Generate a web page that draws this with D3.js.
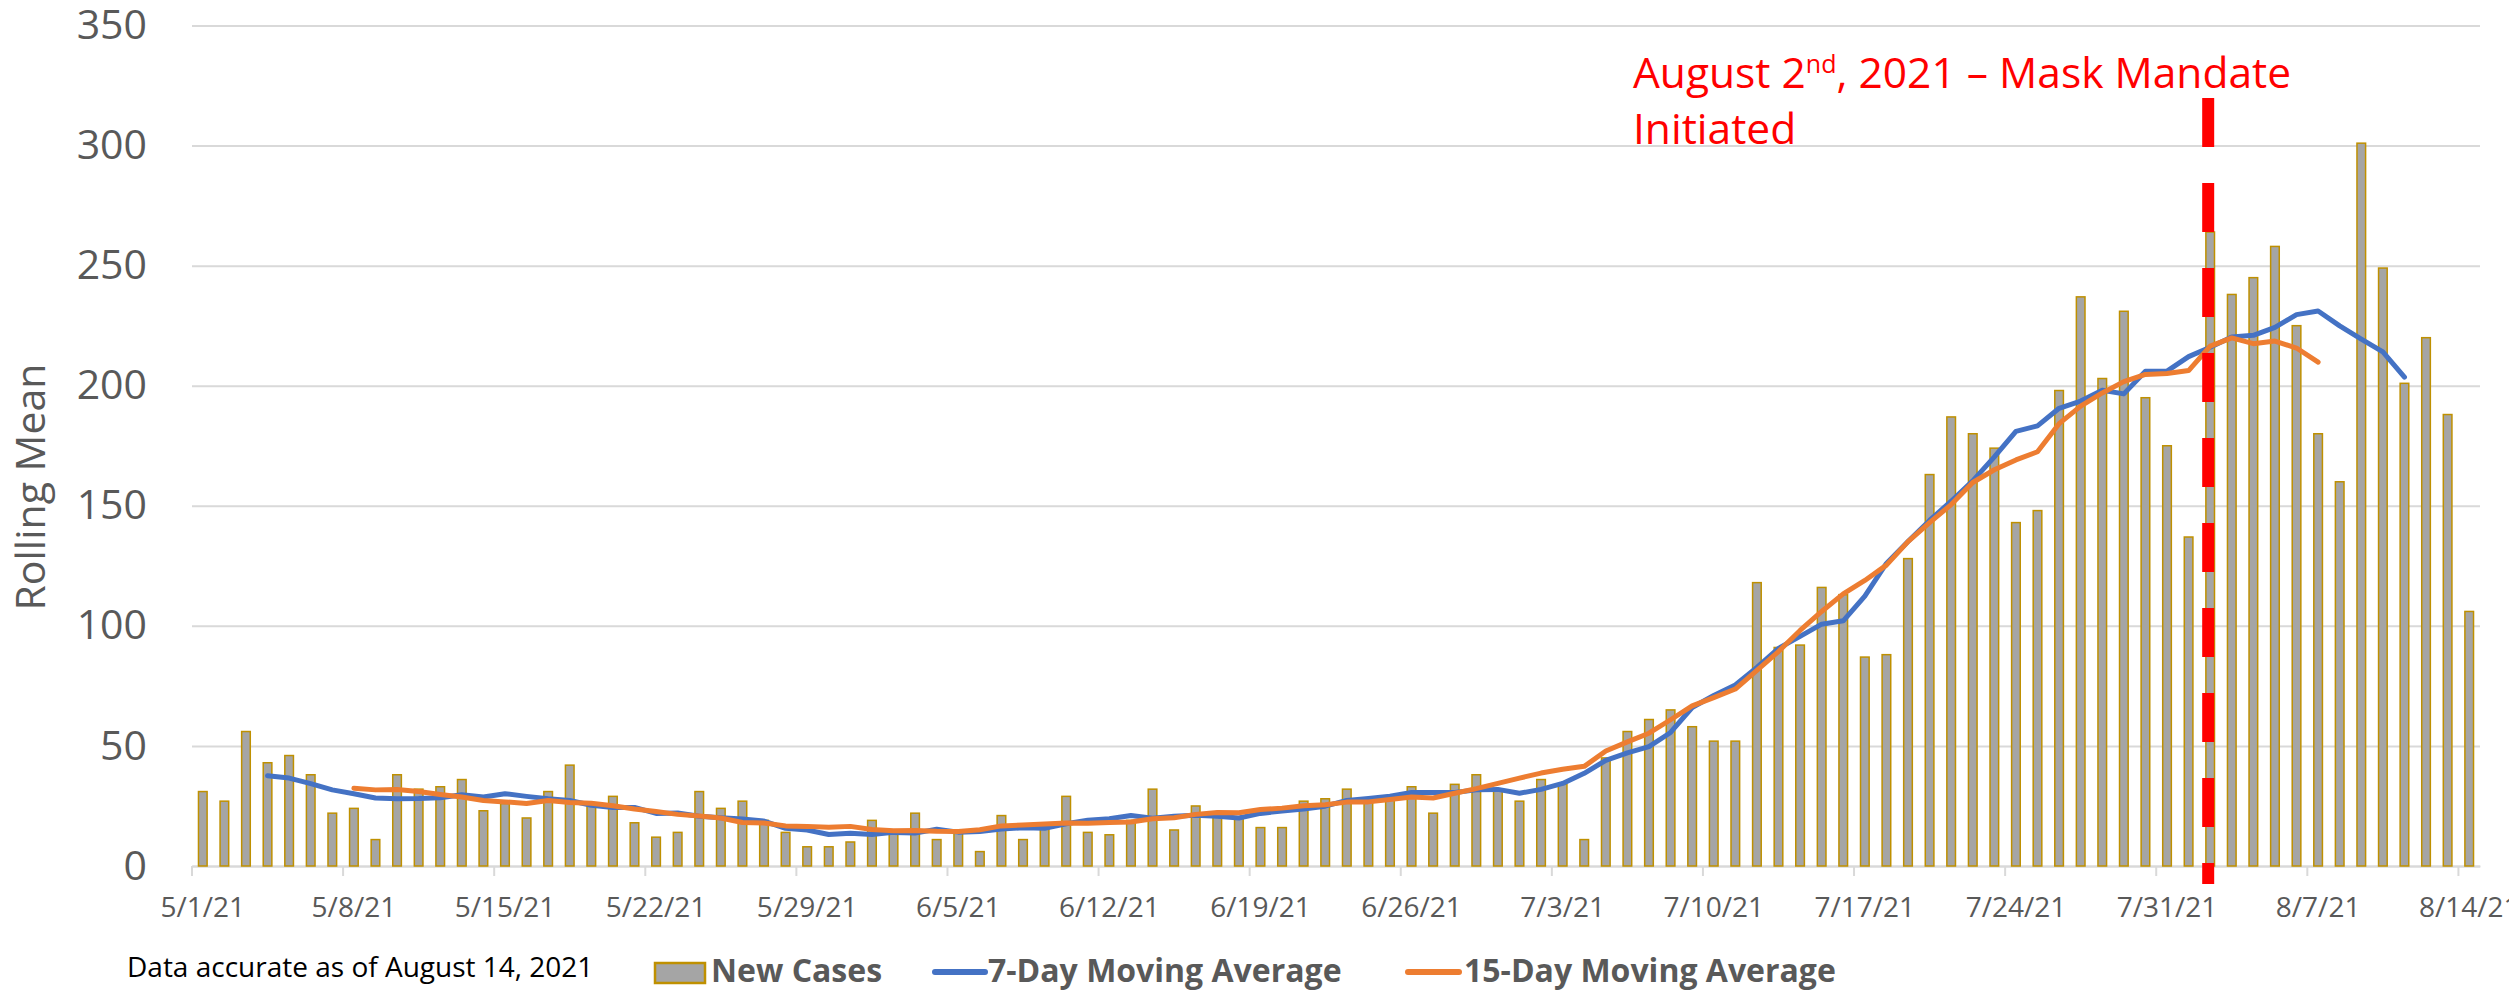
<!DOCTYPE html>
<html>
<meta charset="utf-8">
<script src="https://d3js.org/d3.v7.min.js"></script>
<style>
    body { margin: 0; background: #fff; }
    text { font-family: "Open Sans", sans-serif; }
</style>
<body>
    <svg width="2509" height="991"></svg>
    <script>
        // daily new cases, 5/1/21 .. 8/14/21
        const newCases = [
            31, 27, 56, 43, 46, 38, 22, 24, 11, 38, 32, 33, 36, 23, 26, 20, 31, 42, 25, 29, 18, 12, 14, 31, 24, 27, 19, 14, 8, 8, 10,
            19, 14, 22, 11, 14, 6, 21, 11, 16, 29, 14, 13, 19, 32, 15, 25, 21, 20, 16, 16, 27, 28, 32, 27, 28, 33, 22, 34, 38, 32,
            27, 36, 34, 11, 45, 56, 61, 65, 58, 52, 52, 118, 91, 92, 116, 113, 87, 88, 128, 163, 187, 180, 174, 143, 148, 198, 237, 203, 231, 195, 175,
            137, 264, 238, 245, 258, 225, 180, 160, 301, 249, 201, 220, 188, 106
        ];

        // centred 7-day moving average as plotted (null where not drawn)
        const ma7 = [
            null, null, null,
            37.6, 36.6, 34.3, 31.7, 30.1, 28.3, 28.0, 28.1, 28.4, 29.7,
            28.7, 30.1, 29.0, 28.0, 27.3, 25.3, 24.4, 24.4, 21.9, 22.1,
            20.7, 20.1, 19.6, 18.7, 15.7, 15.0, 13.1, 13.6, 13.1, 14.0,
            13.7, 15.3, 14.1, 14.4, 15.4, 15.9, 15.7, 17.6, 19.1, 19.7,
            21.0, 19.9, 20.7, 21.1, 20.7, 20.0, 21.9, 22.9, 23.7, 24.9,
            27.3, 28.1, 29.1, 30.6, 30.6, 30.6, 31.7, 31.9, 30.3, 31.9,
            34.4, 38.6, 44.0, 47.1, 49.7, 55.6, 66.0, 71.0, 75.4, 82.7,
            90.6, 95.6, 100.7, 102.1, 112.4, 126.0, 135.1, 143.9, 151.9, 160.4,
            170.4, 181.0, 183.3, 190.6, 193.6, 198.1, 196.6, 206.0, 206.1, 212.1,
            216.0, 220.3, 221.0, 224.3, 229.6, 231.1, 224.9, 219.4, 214.1, 203.6,
            null, null, null
        ];

        // centred 15-day moving average as plotted
        const ma15 = [
            null, null, null, null, null, null, null,
            32.4, 31.7, 31.9, 31.0, 29.8, 28.7, 27.3, 26.7, 26.0, 27.3,
            26.4, 26.1, 25.1, 23.7, 22.7, 21.5, 20.8, 20.0, 18.1, 17.9,
            16.7, 16.5, 16.1, 16.5, 15.2, 14.7, 14.8, 14.5, 14.4, 15.1,
            16.7, 17.1, 17.5, 17.9, 17.8, 18.1, 18.3, 19.7, 20.1, 21.5,
            22.3, 22.2, 23.5, 24.1, 25.1, 25.5, 26.6, 26.7, 27.7, 28.7,
            28.3, 30.3, 32.2, 34.4, 36.6, 38.7, 40.3, 41.5, 47.9, 51.7,
            55.3, 60.9, 66.7, 70.1, 73.7, 81.5, 89.3, 98.1, 106.0, 113.3,
            118.9, 125.3, 135.1, 143.0, 150.5, 159.7, 165.0, 169.1, 172.5, 184.2,
            191.5, 197.0, 201.7, 204.7, 205.1, 206.3, 216.5, 219.9, 217.5, 218.6,
            215.7, 209.8,
            null, null, null, null, null, null, null
        ];

        const days = d3.timeDays(new Date(2021, 4, 1), new Date(2021, 7, 15));
        const tickLabels = ["5/1/21", "5/8/21", "5/15/21", "5/22/21", "5/29/21", "6/5/21", "6/12/21", "6/19/21",
            "6/26/21", "7/3/21", "7/10/21", "7/17/21", "7/24/21", "7/31/21", "8/7/21", "8/14/21"];
        const yTicks = [0, 50, 100, 150, 200, 250, 300, 350];
        const mandateDay = new Date(2021, 7, 2);

        let svg = d3.select("svg"),
            plot = { left: 192, right: 2480, top: 25.5, bottom: 866 };

        let x = d3.scaleBand().domain(days).range([plot.left, plot.right]).paddingInner(0.6).paddingOuter(0.3),
            y = d3.scaleLinear().domain([0, 350]).range([plot.bottom, plot.top]);
        const cx = d => x(d) + x.bandwidth() / 2;

        // y axis + gridlines
        let yAxis = svg.append("g").attr("transform", `translate(${plot.left},0)`)
            .call(d3.axisLeft(y).tickValues(yTicks).tickSize(-(plot.right - plot.left)).tickPadding(45));
        yAxis.select(".domain").remove();
        yAxis.selectAll("line").attr("stroke", "#d9d9d9").attr("stroke-width", 2);
        yAxis.selectAll("text").attr("fill", "#595959").style("font-size", "41px");

        // x axis: labels under the day, tick marks on week boundaries
        const labelDays = days.filter((d, i) => i % 7 === 0);
        let xAxis = svg.append("g").attr("transform", `translate(0,${plot.bottom})`)
            .call(d3.axisBottom(x).tickValues(labelDays).tickFormat((d, i) => tickLabels[i]).tickSize(0).tickPadding(31));
        xAxis.select(".domain").attr("stroke", "#d9d9d9").attr("stroke-width", 2);
        xAxis.selectAll("text").attr("fill", "#595959").style("font-size", "28px");
        xAxis.selectAll("line.week")
            .data(labelDays)
            .enter().append("line")
            .attr("class", "week")
            .attr("x1", d => x(d) - (x.step() - x.bandwidth()) / 2)
            .attr("x2", d => x(d) - (x.step() - x.bandwidth()) / 2)
            .attr("y1", 0).attr("y2", 10)
            .attr("stroke", "#d9d9d9").attr("stroke-width", 2);

        // bars
        svg.append("g").selectAll("rect")
            .data(newCases)
            .enter().append("rect")
            .attr("x", (d, i) => x(days[i]))
            .attr("y", d => y(d))
            .attr("width", x.bandwidth())
            .attr("height", d => plot.bottom - y(d))
            .attr("fill", "#a5a5a5").attr("stroke", "#bf9000").attr("stroke-width", 1.5);

        // moving averages
        const line = d3.line().defined(d => d != null).x((d, i) => cx(days[i])).y(d => y(d));
        svg.append("path").datum(ma7).attr("d", line)
            .attr("fill", "none").attr("stroke", "#4472c4").attr("stroke-width", 5)
            .attr("stroke-linejoin", "round").attr("stroke-linecap", "round");
        svg.append("path").datum(ma15).attr("d", line)
            .attr("fill", "none").attr("stroke", "#ed7d31").attr("stroke-width", 5)
            .attr("stroke-linejoin", "round").attr("stroke-linecap", "round");

        // mask mandate marker
        svg.append("line")
            .attr("x1", cx(mandateDay) - 2).attr("x2", cx(mandateDay) - 2)
            .attr("y1", 98).attr("y2", 884)
            .attr("stroke", "#ff0000").attr("stroke-width", 12).attr("stroke-dasharray", "49 36");

        let note = svg.append("text").attr("fill", "#ff0000").style("font-size", "42.5px");
        let first = note.append("tspan").attr("x", 1633).attr("y", 88);
        first.append("tspan").text("August 2");
        first.append("tspan").attr("dy", -15).style("font-size", "25px").text("nd");
        first.append("tspan").attr("dy", 15).text(", 2021 \u2013 Mask Mandate");
        note.append("tspan").attr("x", 1633).attr("y", 143.5).text("Initiated");

        // y title
        svg.append("text")
            .attr("transform", "translate(45,487) rotate(-90)")
            .attr("text-anchor", "middle")
            .attr("fill", "#595959").style("font-size", "41px")
            .text("Rolling Mean");

        // footnote + legend
        svg.append("text").attr("x", 127).attr("y", 977)
            .attr("fill", "#000").style("font-size", "28px")
            .text("Data accurate as of August 14, 2021");

        let legend = svg.append("g").style("font-size", "32px").style("font-weight", "bold").attr("fill", "#595959");
        legend.append("rect").attr("x", 655).attr("y", 963).attr("width", 50).attr("height", 20)
            .attr("fill", "#a5a5a5").attr("stroke", "#bf9000").attr("stroke-width", 2.5);
        legend.append("text").attr("x", 711).attr("y", 982).text("New Cases");
        legend.append("line").attr("x1", 935).attr("x2", 985).attr("y1", 972).attr("y2", 972)
            .attr("stroke", "#4472c4").attr("stroke-width", 6).attr("stroke-linecap", "round");
        legend.append("text").attr("x", 988).attr("y", 982).text("7-Day Moving Average");
        legend.append("line").attr("x1", 1408).attr("x2", 1459).attr("y1", 972).attr("y2", 972)
            .attr("stroke", "#ed7d31").attr("stroke-width", 6).attr("stroke-linecap", "round");
        legend.append("text").attr("x", 1464).attr("y", 982).text("15-Day Moving Average");
    </script>
</body>
</html>
